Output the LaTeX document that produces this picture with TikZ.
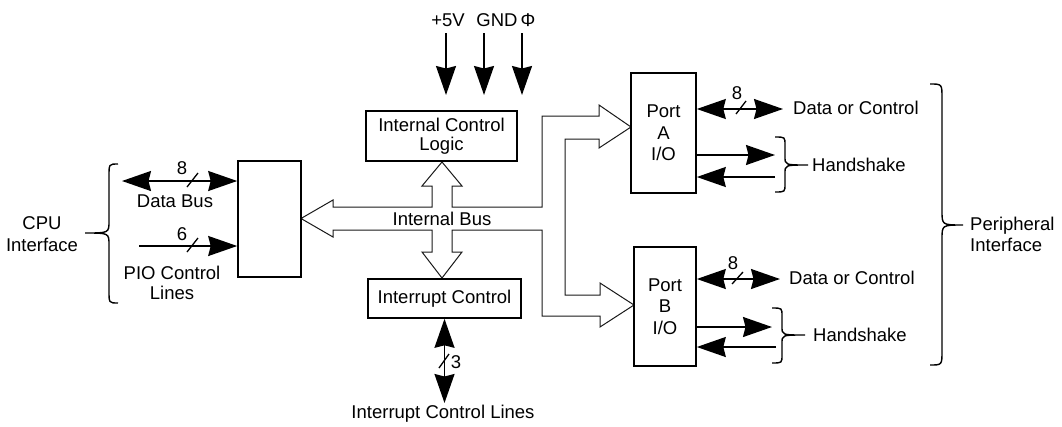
\documentclass[tikz,border=0pt]{standalone}
\usepackage{fontspec}
\setmainfont{Liberation Sans}
\usetikzlibrary{arrows.meta}
\newcommand\mybrace[7]{%
\draw[brc] (#1,#4) .. controls (#2,#4) .. (#2,#4+#7) -- (#2,#6-#7) .. controls (#2,#6) .. (#3,#6) .. controls (#2,#6) .. (#2,#6+#7) -- (#2,#5-#7) .. controls (#2,#5) .. (#1,#5);}
\begin{document}
\begin{tikzpicture}[x=1pt,y=-1pt,
 font=\fontsize{18.5}{20}\selectfont,
 box/.style={draw, line width=1.6pt, inner sep=0pt, align=center},
 sig/.style={line width=1.7pt, -{Stealth[length=29pt,width=20pt,inset=2.5pt]}},
 dsig/.style={line width=1.7pt, {Stealth[length=29pt,width=20pt,inset=2.5pt]}-{Stealth[length=29pt,width=20pt,inset=2.5pt]}},
 bus/.style={draw=black!90, fill=white, line width=1pt, line join=miter},
 brc/.style={line width=1.4pt},
 slsh/.style={line width=1.3pt},
 lbl/.style={inner sep=0pt}
]
\useasboundingbox (0,0) rectangle (1062,426);

% internal bus outline
\draw[bus] (301,218.5) -- (333,200) -- (333,207) -- (432,207) -- (432,186) -- (422,186) -- (442,162) -- (462,186) -- (452,186) -- (452,207) -- (542,207) -- (542,116) -- (599,116) -- (599,105) -- (631,127) -- (599,148) -- (599,139) -- (565,139) -- (565,295) -- (600,295) -- (600,283) -- (634,305) -- (600,327) -- (600,316) -- (542,316) -- (542,230) -- (452,230) -- (452,252) -- (462,252) -- (442,278) -- (422,252) -- (432,252) -- (432,230) -- (333,230) -- (333,237) -- cycle;
\node[lbl] (ib) at (442,219) {Internal Bus};

% boxes
\node[box, minimum width=151pt, minimum height=50pt, font=\fontsize{18.5}{18.5}\selectfont] (icl) at (441.5,136) {Internal Control\\Logic};
\node[box, minimum width=63pt, minimum height=116pt] (cpu) at (269.5,219) {};
\node[box, minimum width=153pt, minimum height=39pt] (ic) at (444.5,298.5) {Interrupt Control};
\node[box, minimum width=65pt, minimum height=120pt, font=\fontsize{18.5}{21.5}\selectfont] (pa) at (663.5,133) {Port\\A\\I/O};
\node[box, minimum width=62pt, minimum height=119pt, font=\fontsize{18.5}{21.5}\selectfont] (pb) at (665,306.5) {Port\\B\\I/O};

% power inputs
\node[lbl] (l5v) at (448,20) {+5V};
\node[lbl] (lgnd) at (497,20) {GND};
\node[lbl] (lphi) at (528,20) {Φ};
\coordinate (p5s) at (446,33); \coordinate (p5e) at (446,95);
\coordinate (pgs) at (484,33); \coordinate (pge) at (484,95);
\coordinate (pps) at (522,33); \coordinate (ppe) at (522,95);
\draw[sig] (p5s) -- (p5e);
\draw[sig] (pgs) -- (pge);
\draw[sig] (pps) -- (ppe);

% CPU side
\coordinate (dbL) at (122,181);
\draw[dsig] (dbL) -- (dbL -| cpu.west);
\draw[slsh] (187,187) -- (198,173);
\node[lbl] (n8a) at (182,168) {8};
\node[lbl] (ldb) at (175,201) {Data Bus};
\coordinate (pioL) at (139,246);
\draw[sig] (pioL) -- (pioL -| cpu.west);
\draw[slsh] (187,252) -- (198,238);
\node[lbl] (n6) at (182,234) {6};
\node[lbl, align=center] (lpio) at (172,283) {PIO Control\\Lines};
\node[lbl, align=center, font=\fontsize{18.5}{22}\selectfont] (lcpu) at (42,234) {CPU\\Interface};
\mybrace{118}{109}{85}{164}{303}{233}{12}

% interrupt lines
\coordinate (irqB) at (444.5,403);
\draw[dsig] (ic.south) -- (irqB);
\draw[slsh] (439,368) -- (449,354);
\node[lbl] (n3) at (456,362) {3};
\node[lbl] (lirq) at (443,414) {Interrupt Control Lines};

% Port A
\coordinate (paD) at (783,109);
\draw[dsig] (paD -| pa.east) -- (paD);
\draw[slsh] (736,114) -- (746,101);
\node[lbl] (n8b) at (737,93) {8};
\node[lbl, anchor=west] (lda) at (793,108) {Data or Control};
\coordinate (paO) at (775,155);
\draw[sig] (paO -| pa.east) -- (paO);
\coordinate (paI) at (775,177);
\draw[sig] (paI) -- (paI -| pa.east);
\mybrace{775}{785}{808}{137}{192}{165}{8}
\node[lbl, anchor=west] (lha) at (812,165) {Handshake};

% Port B
\coordinate (pbD) at (780,279);
\draw[dsig] (pbD -| pb.east) -- (pbD);
\draw[slsh] (732,284) -- (743,272);
\node[lbl] (n8c) at (733,263) {8};
\node[lbl, anchor=west] (ldb2) at (789,278) {Data or Control};
\coordinate (pbO) at (772,327);
\draw[sig] (pbO -| pb.east) -- (pbO);
\coordinate (pbI) at (776,347);
\draw[sig] (pbI) -- (pbI -| pb.east);
\mybrace{772}{782}{805}{308}{363}{335}{8}
\node[lbl, anchor=west] (lhb) at (813,335) {Handshake};

% peripheral interface
\mybrace{930}{942}{963}{84}{365}{225}{14}
\node[lbl, anchor=west, align=left, font=\fontsize{18.5}{21}\selectfont] (lper) at (970,234.5) {Peripheral\\Interface};
\end{tikzpicture}
\end{document}
